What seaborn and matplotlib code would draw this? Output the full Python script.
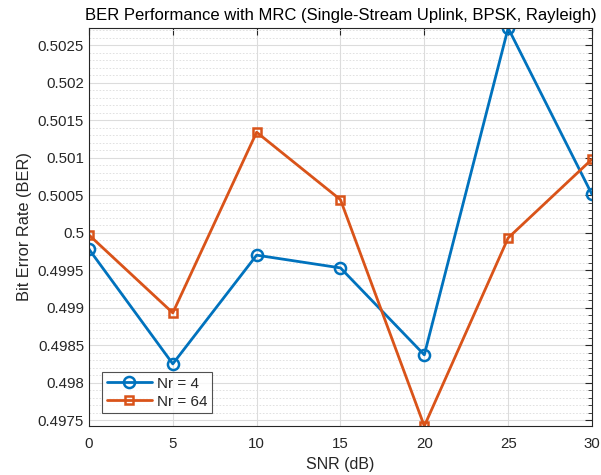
import matplotlib
matplotlib.use("Agg")
import matplotlib.pyplot as plt
import seaborn as sns
import pandas as pd
from matplotlib.ticker import MultipleLocator

snr_db = [0, 5, 10, 15, 20, 25, 30]
ber_nr4 = [0.49978, 0.49825, 0.49970, 0.49953, 0.49837, 0.50273, 0.50051]
ber_nr64 = [0.49997, 0.49893, 0.50134, 0.50044, 0.49742, 0.49993, 0.50098]
labels = ["Nr = 4", "Nr = 64"]

sns.set_style("white")
plt.rcParams["font.family"] = ["Liberation Sans", "DejaVu Sans"]

df = pd.DataFrame({"snr": snr_db, labels[0]: ber_nr4, labels[1]: ber_nr64})

fig = plt.figure(figsize=(6.01, 4.75), dpi=100)
ax = fig.add_axes([0.148, 0.103, 0.837, 0.838])

colors = ["#0072BD", "#D95319"]
markers = ["o", "s"]
msizes = [8, 6]
for lab, c, m, ms in zip(labels, colors, markers, msizes):
    sns.lineplot(data=df, x="snr", y=lab, ax=ax, color=c, marker=m,
                 markersize=ms, markerfacecolor="none", markeredgecolor=c,
                 markeredgewidth=1.8, linewidth=2, label=lab)

ax.set_xlim(0, 30)
ax.set_ylim(min(ber_nr64 + ber_nr4), max(ber_nr4 + ber_nr64))
ax.xaxis.set_major_locator(MultipleLocator(5))
ax.yaxis.set_major_locator(MultipleLocator(0.0005))
ax.yaxis.set_minor_locator(MultipleLocator(0.0001))
ax.yaxis.set_major_formatter(plt.FuncFormatter(lambda v, p: f"{v:.4f}".rstrip("0").rstrip(".")))

ax.grid(True, which="major", color="#dcdcdc", linewidth=0.8)
ax.grid(True, which="minor", axis="y", color="#dcdcdc", linestyle=(0, (2, 2)), linewidth=0.6)
ax.set_axisbelow(True)

for s in ax.spines.values():
    s.set_color("#262626")
    s.set_linewidth(0.8)
ax.tick_params(which="both", direction="in", top=True, right=True, colors="#262626",
               labelsize=10.8, labelcolor="#262626")
ax.tick_params(which="major", length=5)
ax.tick_params(which="minor", length=3)
ax.tick_params(axis="x", which="minor", top=False, bottom=False)
ax.tick_params(axis="x", pad=8)

ax.set_title("BER Performance with MRC (Single-Stream Uplink, BPSK, Rayleigh)",
             fontsize=12, color="black", pad=6)
ax.set_xlabel("SNR (dB)", fontsize=11.5, color="#262626")
ax.set_ylabel("Bit Error Rate (BER)", fontsize=11.8, color="#262626")

leg = ax.legend(loc="lower left", fontsize=11, frameon=True, fancybox=False,
                edgecolor="#262626", borderaxespad=0.85, handlelength=3.0,
                borderpad=0.3, labelspacing=0.25, handletextpad=0.3)
leg.get_frame().set_linewidth(0.8)

fig.savefig("out.png", dpi=100)
